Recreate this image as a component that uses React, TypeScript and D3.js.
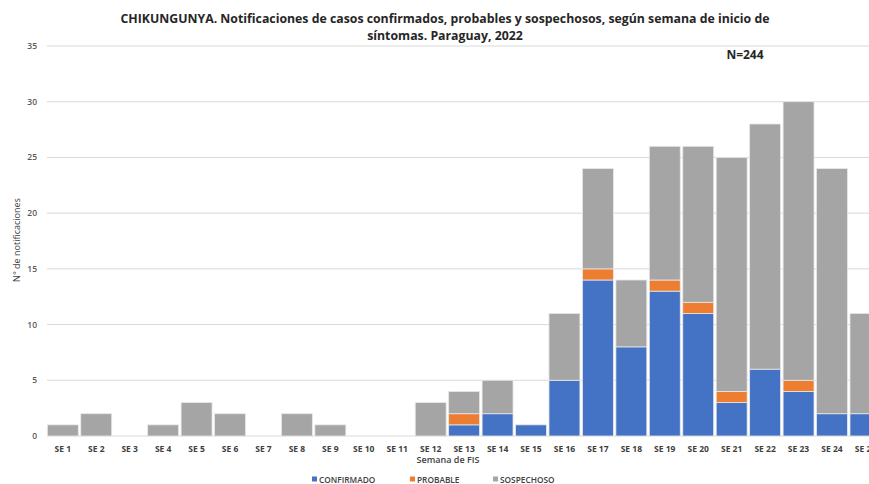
import * as d3 from 'd3';
import { useEffect, useRef } from 'react';

const weeks = [
    'SE 1', 'SE 2', 'SE 3', 'SE 4', 'SE 5', 'SE 6', 'SE 7', 'SE 8', 'SE 9', 'SE 10',
    'SE 11', 'SE 12', 'SE 13', 'SE 14', 'SE 15', 'SE 16', 'SE 17', 'SE 18', 'SE 19', 'SE 20',
    'SE 21', 'SE 22', 'SE 23', 'SE 24', 'SE 25',
];
const confirmado = [0, 0, 0, 0, 0, 0, 0, 0, 0, 0, 0, 0, 1, 2, 1, 5, 14, 8, 13, 11, 3, 6, 4, 2, 2];
const probable = [0, 0, 0, 0, 0, 0, 0, 0, 0, 0, 0, 0, 1, 0, 0, 0, 1, 0, 1, 1, 1, 0, 1, 0, 0];
const sospechoso = [1, 2, 0, 1, 3, 2, 0, 2, 1, 0, 0, 3, 2, 3, 0, 6, 9, 6, 12, 14, 21, 22, 25, 22, 9];
const seriesNames = ['CONFIRMADO', 'PROBABLE', 'SOSPECHOSO'];
const seriesColors = ['#4472C4', '#ED7D31', '#A5A5A5'];
const yTicks = [0, 5, 10, 15, 20, 25, 30, 35];

const W = 869;
const H = 484;
const FONT = '"Open Sans", "Noto Sans", sans-serif';

function App() {
    const svgRef = useRef<SVGSVGElement>(null);

    useEffect(() => {
        if (!svgRef.current) return;
        const svg = d3.select(svgRef.current);
        svg.selectAll('*').remove();

        // the last category runs past the right edge, as in the source image
        const x = d3.scaleBand().domain(weeks).range([46, 46 + 33.45 * weeks.length]).paddingInner(0.075).paddingOuter(0.04);
        const y = d3.scaleLinear().domain([0, 35]).range([436, 46]);

        const rows = weeks.map((w, i) => ({
            week: w,
            CONFIRMADO: confirmado[i],
            PROBABLE: probable[i],
            SOSPECHOSO: sospechoso[i],
        }));
        const stacked = d3.stack<any>().keys(seriesNames)(rows);

        // gridlines
        svg.append('g')
            .selectAll('line')
            .data(yTicks)
            .join('line')
            .attr('x1', 47)
            .attr('x2', W)
            .attr('y1', (d) => y(d))
            .attr('y2', (d) => y(d))
            .attr('stroke', '#d9d9d9')
            .attr('stroke-width', 1);

        // y tick labels
        svg.append('g')
            .selectAll('text')
            .data(yTicks)
            .join('text')
            .attr('x', 37)
            .attr('y', (d) => y(d))
            .attr('dy', '0.35em')
            .attr('text-anchor', 'end')
            .attr('font-family', FONT)
            .attr('font-size', 8.5)
            .attr('font-weight', 600)
            .attr('fill', '#595959')
            .text((d) => d);

        // bars
        svg.append('g')
            .selectAll('g')
            .data(stacked)
            .join('g')
            .attr('fill', (_, i) => seriesColors[i])
            .selectAll('rect')
            .data((d) => d.filter((s) => s[1] - s[0] > 0))
            .join('rect')
            .attr('x', (d) => x(d.data.week)!)
            .attr('width', x.bandwidth())
            .attr('y', (d) => y(d[1]))
            .attr('height', (d) => y(d[0]) - y(d[1]))
            .attr('stroke', '#e8e8e8')
            .attr('stroke-width', 0.8);

        // x labels
        svg.append('g')
            .selectAll('text')
            .data(weeks)
            .join('text')
            .attr('x', (d) => x(d)! + x.bandwidth() / 2)
            .attr('y', 452)
            .attr('text-anchor', 'middle')
            .attr('font-family', FONT)
            .attr('font-size', 8.5)
            .attr('font-weight', 700)
            .attr('fill', '#404040')
            .text((d) => d);

        svg.append('text')
            .attr('x', 448)
            .attr('y', 463)
            .attr('text-anchor', 'middle')
            .attr('font-family', FONT)
            .attr('font-size', 9)
            .attr('font-weight', 600)
            .attr('fill', '#404040')
            .text('Semana de FIS');

        // y axis title
        svg.append('text')
            .attr('transform', 'translate(20,240) rotate(-90)')
            .attr('text-anchor', 'middle')
            .attr('font-family', FONT)
            .attr('font-size', 9)
            .attr('fill', '#404040')
            .text('N° de notificaciones');

        // title
        const title = svg.append('text')
            .attr('text-anchor', 'middle')
            .attr('font-family', FONT)
            .attr('font-size', 12.3)
            .attr('font-weight', 700)
            .attr('fill', '#262626');
        title.append('tspan').attr('x', 445).attr('y', 23)
            .text('CHIKUNGUNYA. Notificaciones de casos confirmados, probables y sospechosos, según semana de inicio de');
        title.append('tspan').attr('x', 445).attr('y', 40)
            .text('síntomas. Paraguay, 2022');

        svg.append('text')
            .attr('x', 745)
            .attr('y', 59)
            .attr('text-anchor', 'middle')
            .attr('font-family', FONT)
            .attr('font-size', 12)
            .attr('font-weight', 700)
            .attr('fill', '#262626')
            .text('N=244');

        // legend
        const legendX = [312, 410, 493];
        const legend = svg.append('g')
            .selectAll('g')
            .data(seriesNames)
            .join('g')
            .attr('transform', (_, i) => `translate(${legendX[i]},483)`);
        legend.append('rect')
            .attr('x', 0)
            .attr('y', -6.5)
            .attr('width', 5)
            .attr('height', 5)
            .attr('fill', (_, i) => seriesColors[i]);
        legend.append('text')
            .attr('x', 7)
            .attr('y', 0)
            .attr('font-family', FONT)
            .attr('font-size', 8.3)
            .attr('font-weight', 600)
            .attr('fill', '#404040')
            .text((d) => d);
    }, []);

    return (
        <div style={{ position: 'fixed', left: 0, top: 0, width: W, height: H, overflow: 'hidden', background: '#fff' }}>
            <svg ref={svgRef} width={W} height={H} />
        </div>
    );
}

export default App;
